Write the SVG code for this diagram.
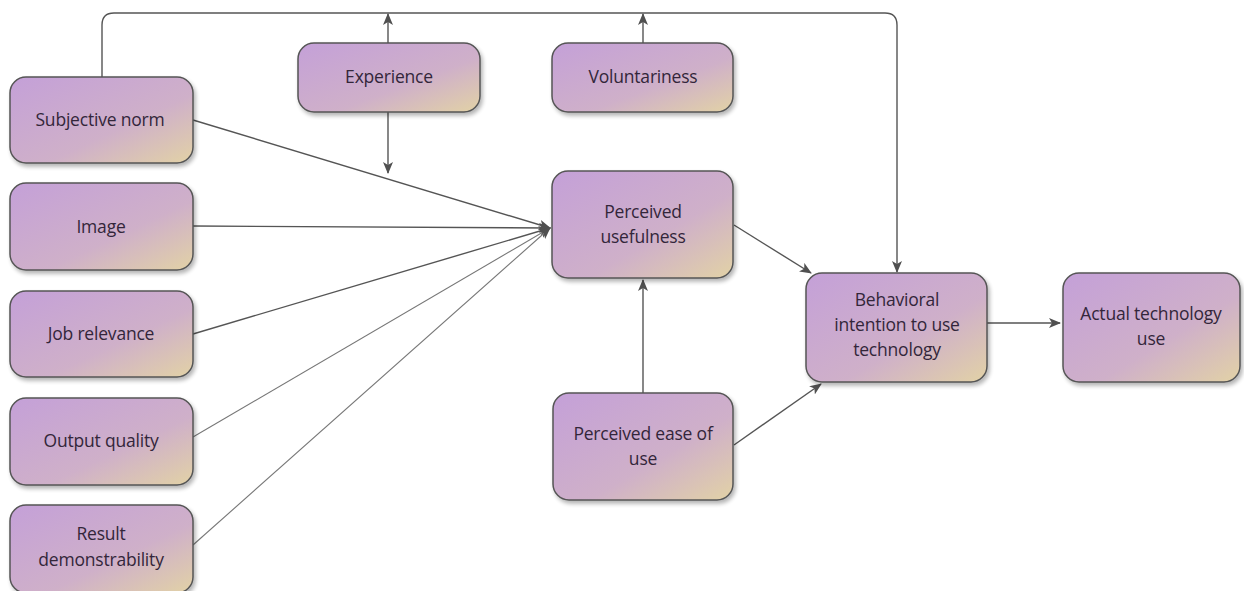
<svg xmlns="http://www.w3.org/2000/svg" width="1244" height="591" viewBox="0 0 1244 591">
  <defs>
    <linearGradient id="boxFill" x1="0" y1="0" x2="1" y2="1">
      <stop offset="0" stop-color="#c4a0d8"/>
      <stop offset="0.6" stop-color="#cfb0c9"/>
      <stop offset="1" stop-color="#e2d2a6"/>
    </linearGradient>
    <filter id="shadow" x="-10%" y="-10%" width="125%" height="130%">
      <feGaussianBlur in="SourceAlpha" stdDeviation="2"/>
      <feOffset dx="2" dy="3"/>
      <feComponentTransfer><feFuncA type="linear" slope="0.3"/></feComponentTransfer>
      <feMerge><feMergeNode/><feMergeNode in="SourceGraphic"/></feMerge>
    </filter>
    <marker id="arrow" viewBox="0 0 12 10" refX="11" refY="5" markerWidth="12" markerHeight="10" markerUnits="userSpaceOnUse" orient="auto">
      <path d="M0,0 L12,5 L0,10 L3,5 Z" fill="#505050"/>
    </marker>
  </defs>
  <style>
    .box { fill: url(#boxFill); stroke: #555; stroke-width: 1.5; filter: url(#shadow); }
    .lbl { font-family: "Open Sans", "DejaVu Sans", sans-serif; font-size: 17.5px; fill: #33263a; text-anchor: middle; letter-spacing: -0.2px; }
    .edge { fill: none; stroke: #555; stroke-width: 1.4; }
    .thin { fill: none; stroke: #777; stroke-width: 1.1; }
  </style>
  <rect width="1244" height="591" fill="#ffffff"/>

  <g id="connectors">
    <!-- feedback loop over the top into behavioral intention -->
    <path class="edge" d="M102,77 V25 Q102,13 114,13 H885 Q897,13 897,25 V272" marker-end="url(#arrow)"/>
    <!-- moderators pointing up to the loop -->
    <line class="edge" x1="388" y1="43" x2="388" y2="14" marker-end="url(#arrow)"/>
    <line class="edge" x1="643" y1="43" x2="643" y2="14" marker-end="url(#arrow)"/>
    <!-- experience down onto the subjective-norm path -->
    <line class="edge" x1="388" y1="112" x2="388" y2="173" marker-end="url(#arrow)"/>
    <!-- determinants converging on perceived usefulness -->
    <line class="edge" x1="193" y1="120" x2="550" y2="228" marker-end="url(#arrow)"/>
    <line class="edge" x1="193" y1="226" x2="550" y2="228" marker-end="url(#arrow)"/>
    <line class="edge" x1="193" y1="334" x2="550" y2="228" marker-end="url(#arrow)"/>
    <line class="thin" x1="193" y1="437" x2="550" y2="228" marker-end="url(#arrow)"/>
    <line class="thin" x1="193" y1="545" x2="550" y2="228" marker-end="url(#arrow)"/>
    <!-- core model paths -->
    <line class="edge" x1="643" y1="393" x2="643" y2="280" marker-end="url(#arrow)"/>
    <line class="edge" x1="734" y1="225" x2="811" y2="273" marker-end="url(#arrow)"/>
    <line class="edge" x1="734" y1="445" x2="821" y2="384" marker-end="url(#arrow)"/>
    <line class="edge" x1="987" y1="323" x2="1060" y2="323" marker-end="url(#arrow)"/>
  </g>

  <g id="subjective-norm">
    <rect class="box" x="10" y="77" width="183" height="86" rx="16"/>
    <text class="lbl" x="100" y="126">Subjective norm</text>
  </g>
  <g id="image">
    <rect class="box" x="10" y="183" width="183" height="87" rx="16"/>
    <text class="lbl" x="101" y="233">Image</text>
  </g>
  <g id="job-relevance">
    <rect class="box" x="10" y="291" width="183" height="86" rx="16"/>
    <text class="lbl" x="101" y="340">Job relevance</text>
  </g>
  <g id="output-quality">
    <rect class="box" x="10" y="398" width="183" height="87" rx="16"/>
    <text class="lbl" x="101" y="447">Output quality</text>
  </g>
  <g id="result-demonstrability">
    <rect class="box" x="10" y="505" width="183" height="88" rx="16"/>
    <text class="lbl" x="101" y="540">Result</text>
    <text class="lbl" x="101" y="566">demonstrability</text>
  </g>
  <g id="experience">
    <rect class="box" x="298" y="43" width="182" height="69" rx="16"/>
    <text class="lbl" x="389" y="83">Experience</text>
  </g>
  <g id="voluntariness">
    <rect class="box" x="552" y="43" width="181" height="69" rx="16"/>
    <text class="lbl" x="643" y="83">Voluntariness</text>
  </g>
  <g id="perceived-usefulness">
    <rect class="box" x="552" y="171" width="181" height="107" rx="16"/>
    <text class="lbl" x="643" y="218">Perceived</text>
    <text class="lbl" x="643" y="243">usefulness</text>
  </g>
  <g id="perceived-ease-of-use">
    <rect class="box" x="553" y="393" width="180" height="107" rx="16"/>
    <text class="lbl" x="643" y="440">Perceived ease of</text>
    <text class="lbl" x="643" y="465">use</text>
  </g>
  <g id="behavioral-intention">
    <rect class="box" x="806" y="273" width="181" height="109" rx="16"/>
    <text class="lbl" x="897" y="306">Behavioral</text>
    <text class="lbl" x="897" y="331">intention to use</text>
    <text class="lbl" x="897" y="356">technology</text>
  </g>
  <g id="actual-use">
    <rect class="box" x="1063" y="273" width="177" height="109" rx="16"/>
    <text class="lbl" x="1151" y="320">Actual technology</text>
    <text class="lbl" x="1151" y="345">use</text>
  </g>
</svg>
